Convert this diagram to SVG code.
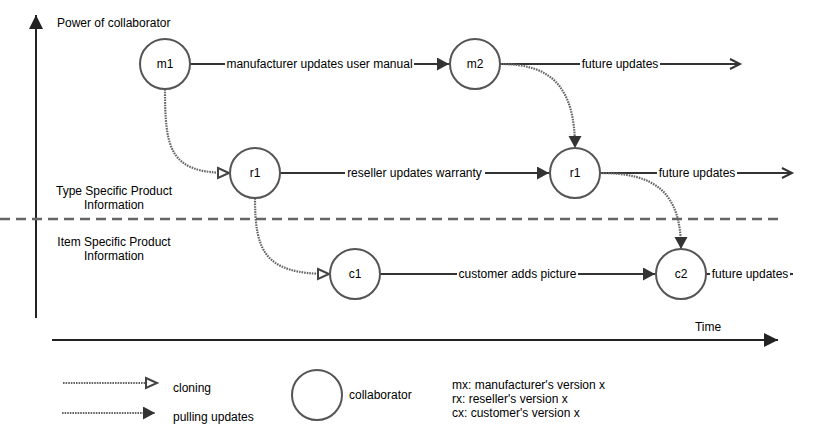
<svg xmlns="http://www.w3.org/2000/svg" width="818" height="444" viewBox="0 0 818 444">
<style>
text{font-family:"Liberation Sans",Arial,sans-serif;font-size:12px;fill:#000}
.node{fill:#fff;stroke:#555;stroke-width:2}
.edge{fill:none;stroke:#333;stroke-width:2}
.dot{fill:none;stroke:#666;stroke-width:2.2;stroke-dasharray:1.6 1}
.lbl{fill:#fff}
.axis{fill:none;stroke:#222;stroke-width:2}
</style>
<defs>
<marker id="fill" markerUnits="userSpaceOnUse" markerWidth="14" markerHeight="14" refX="12" refY="6.5" orient="auto" viewBox="0 0 14 14">
<path d="M0,0 L12,6.5 L0,13 Z" fill="#333" stroke="none"/>
</marker>
<marker id="clone" markerUnits="userSpaceOnUse" markerWidth="16" markerHeight="16" refX="13" refY="7" orient="auto" viewBox="0 0 16 16">
<path d="M2,2 L13,7 L2,12 Z" fill="#fff" stroke="#444" stroke-width="2"/>
</marker>
<marker id="open" markerUnits="userSpaceOnUse" markerWidth="14" markerHeight="14" refX="11" refY="6" orient="auto" viewBox="0 0 14 14">
<path d="M1,1 L11,6 L1,11" fill="none" stroke="#333" stroke-width="2"/>
</marker>
<marker id="tiny" markerUnits="userSpaceOnUse" markerWidth="6" markerHeight="6" refX="4" refY="2" orient="auto" viewBox="0 0 6 6">
<path d="M0,0 L4,2 L0,4 Z" fill="#333"/>
</marker>
<marker id="axisArrow" markerUnits="userSpaceOnUse" markerWidth="16" markerHeight="16" refX="14" refY="7" orient="auto" viewBox="0 0 16 16">
<path d="M0,0 L14,7 L0,14 Z" fill="#222"/>
</marker>
</defs>

<g id="axes">
<line class="axis" x1="36" y1="318" x2="36" y2="15" marker-end="url(#axisArrow)"/>
<line class="axis" x1="52" y1="340" x2="778" y2="340" marker-end="url(#axisArrow)"/>
<line x1="0" y1="219" x2="781" y2="219" stroke="#666" stroke-width="2.5" stroke-dasharray="10 6"/>
<text x="57" y="27">Power of collaborator</text>
<text x="708" y="331" text-anchor="middle">Time</text>
<text x="114" y="195" text-anchor="middle">Type Specific Product</text>
<text x="114" y="209" text-anchor="middle">Information</text>
<text x="114" y="246" text-anchor="middle">Item Specific Product</text>
<text x="114" y="260" text-anchor="middle">Information</text>
</g>

<g id="connectors">
<line class="edge" x1="190" y1="64" x2="449" y2="64" marker-end="url(#fill)"/>
<rect class="lbl" x="225" y="56" width="189" height="16"/>
<text x="319.5" y="68" text-anchor="middle">manufacturer updates user manual</text>

<line class="edge" x1="500" y1="64" x2="740" y2="64" marker-end="url(#open)"/>
<rect class="lbl" x="580" y="56" width="80" height="16"/>
<text x="620" y="68" text-anchor="middle">future updates</text>

<line class="edge" x1="280" y1="173" x2="549" y2="173" marker-end="url(#fill)"/>
<rect class="lbl" x="345" y="165" width="140" height="16"/>
<text x="414.5" y="177" text-anchor="middle">reseller updates warranty</text>

<line class="edge" x1="600" y1="173" x2="792" y2="173" marker-end="url(#open)"/>
<rect class="lbl" x="657" y="165" width="80" height="16"/>
<text x="697" y="177" text-anchor="middle">future updates</text>

<line class="edge" x1="380" y1="274" x2="655" y2="274" marker-end="url(#fill)"/>
<rect class="lbl" x="457" y="266" width="121" height="16"/>
<text x="517.5" y="278" text-anchor="middle">customer adds picture</text>

<line class="edge" x1="706" y1="274" x2="793" y2="274" stroke-width="1.5" marker-end="url(#tiny)"/>
<rect class="lbl" x="710" y="266" width="80" height="16"/>
<text x="750" y="278" text-anchor="middle">future updates</text>

<path class="dot" d="M165,89 C165,150 170,173 229,173" marker-end="url(#clone)"/>
<path class="dot" d="M255,198 C255,252 265,274 329,274" marker-end="url(#clone)"/>
<path class="dot" d="M500,64 C550,64 575,85 575,148" marker-end="url(#fill)"/>
<path class="dot" d="M600,173 C655,173 681,192 681,249" marker-end="url(#fill)"/>
</g>

<g id="m1"><circle class="node" cx="165" cy="64" r="25"/><text x="165" y="68" text-anchor="middle">m1</text></g>
<g id="m2"><circle class="node" cx="475" cy="64" r="25"/><text x="475" y="68" text-anchor="middle">m2</text></g>
<g id="r1a"><circle class="node" cx="255" cy="173" r="25"/><text x="255" y="177" text-anchor="middle">r1</text></g>
<g id="r1b"><circle class="node" cx="575" cy="173" r="25"/><text x="575" y="177" text-anchor="middle">r1</text></g>
<g id="c1"><circle class="node" cx="355" cy="274" r="25"/><text x="355" y="278" text-anchor="middle">c1</text></g>
<g id="c2"><circle class="node" cx="681" cy="274" r="25"/><text x="681" y="278" text-anchor="middle">c2</text></g>

<g id="legend">
<line class="dot" x1="63" y1="383" x2="157" y2="383" marker-end="url(#clone)"/>
<text x="173" y="392">cloning</text>
<line class="dot" x1="62" y1="413" x2="155" y2="413" marker-end="url(#fill)"/>
<text x="173" y="421">pulling updates</text>
<circle class="node" cx="317" cy="395" r="25"/>
<text x="349" y="399">collaborator</text>
<text x="452" y="389">mx: manufacturer's version x</text>
<text x="452" y="403">rx: reseller's version x</text>
<text x="452" y="417">cx: customer's version x</text>
</g>
</svg>
